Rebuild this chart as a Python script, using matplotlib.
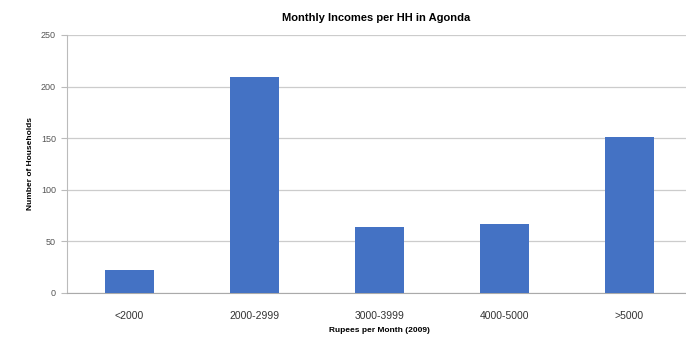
import matplotlib
matplotlib.use("Agg")
import matplotlib.pyplot as plt

categories = ["<2000", "2000-2999", "3000-3999", "4000-5000", ">5000"]
households = [22, 209, 64, 67, 151]
yticks = [0, 50, 100, 150, 200, 250]

plt.rcParams['font.family'] = ['Liberation Sans', 'DejaVu Sans']

fig = plt.figure(figsize=(6.86, 3.43), dpi=100)
ax = fig.add_axes([67/686, 1 - 293/343, 625/686, 258/343])

x = list(range(len(categories)))
ax.bar(x, households, width=0.39, color="#4472C4", zorder=3)

ax.set_xlim(-0.5, len(categories) - 0.5)
ax.set_ylim(0, 250)
ax.set_yticks(yticks)
ax.set_xticks(x)
ax.set_xticklabels(categories, fontsize=7.5, color="#333333")
ax.tick_params(axis='y', labelsize=6.5, colors="#555555", length=4, color="#bbbbbb", pad=4)
ax.tick_params(axis='x', length=0, pad=13)
ax.grid(axis='y', color="#cccccc", linewidth=0.9, zorder=0)
for s in ["top", "right"]:
    ax.spines[s].set_visible(False)
ax.spines["left"].set_color("#bbbbbb")
ax.spines["bottom"].set_color("#aaaaaa")

ax.set_title("Monthly Incomes per HH in Agonda", fontsize=8, fontweight="bold", pad=10, x=0.494)
ax.set_xlabel("Rupees per Month (2009)", fontsize=6, fontweight="bold", labelpad=4)
ax.set_ylabel("Number of Households", fontsize=6, fontweight="bold", labelpad=5)

fig.savefig("out.png", dpi=100)
